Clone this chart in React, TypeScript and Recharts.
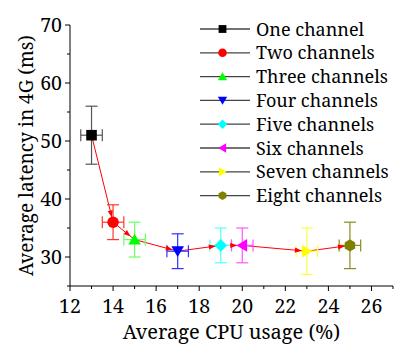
import React from 'react';
import { ComposedChart, XAxis, YAxis, Line, Scatter, ErrorBar } from 'recharts';

const seriesNames = ['One channel', 'Two channels', 'Three channels', 'Four channels', 'Five channels', 'Six channels', 'Seven channels', 'Eight channels'];
const cpuUsage = [13, 14, 15, 17, 19, 20, 23, 25];
const latency = [51, 36, 33, 31, 32, 32, 31, 32];
const cpuErr = [0.5, 0.5, 0.5, 0.5, 0.5, 0.5, 0.5, 0.5];
const latencyErr = [5, 3, 3, 3, 3, 3, 4, 4];
const colors = ['#000000', '#ff0000', '#00ff00', '#0000ff', '#00ffff', '#ff00ff', '#ffff00', '#808000'];
const errColors = ['#555555', '#ff3333', '#66ff66', '#3333ff', '#55ffff', '#ff55ff', '#ffff44', '#8a8a20'];
const shapes = ['square', 'circle', 'triangleUp', 'triangleDown', 'diamond', 'triangleLeft', 'triangleRight', 'hexagon'];
const xTicks = [12, 13, 14, 15, 16, 17, 18, 19, 20, 21, 22, 23, 24, 25, 26, 27];
const xLabelTicks = [12, 14, 16, 18, 20, 22, 24, 26];
const yTicks = [25, 30, 35, 40, 45, 50, 55, 60, 65, 70];
const yLabelTicks = [30, 40, 50, 60, 70];
const xTitle = 'Average CPU usage (%)';
const yTitle = 'Average latency in 4G (ms)';

const txt = { fontFamily: "'Noto Serif', 'DejaVu Serif'" };

const points = cpuUsage.map((c, i) => ({ cpu: c, latency: latency[i], cpuErr: cpuErr[i], latErr: latencyErr[i] }));

function Marker({ type, cx, cy, s, fill }: { type: string; cx: number; cy: number; s: number; fill: string }) {
  const h = s / 2;
  switch (type) {
    case 'square':
      return <rect x={cx - h * 0.92} y={cy - h * 0.92} width={s * 0.92} height={s * 0.92} fill={fill} />;
    case 'circle':
      return <circle cx={cx} cy={cy} r={h} fill={fill} />;
    case 'triangleUp':
      return <polygon points={`${cx},${cy - h} ${cx + h * 1.1},${cy + h * 0.85} ${cx - h * 1.1},${cy + h * 0.85}`} fill={fill} />;
    case 'triangleDown':
      return <polygon points={`${cx},${cy + h} ${cx + h * 1.1},${cy - h * 0.85} ${cx - h * 1.1},${cy - h * 0.85}`} fill={fill} />;
    case 'diamond':
      return <polygon points={`${cx},${cy - h * 1.1} ${cx + h * 1.1},${cy} ${cx},${cy + h * 1.1} ${cx - h * 1.1},${cy}`} fill={fill} />;
    case 'triangleLeft':
      return <polygon points={`${cx - h},${cy} ${cx + h * 0.85},${cy - h * 1.1} ${cx + h * 0.85},${cy + h * 1.1}`} fill={fill} />;
    case 'triangleRight':
      return <polygon points={`${cx + h},${cy} ${cx - h * 0.85},${cy - h * 1.1} ${cx - h * 0.85},${cy + h * 1.1}`} fill={fill} />;
    case 'hexagon': {
      const pts: string[] = [];
      for (let k = 0; k < 6; k++) {
        const a = (Math.PI / 3) * k + Math.PI / 6;
        pts.push(`${cx + Math.cos(a) * h * 1.05},${cy + Math.sin(a) * h * 1.05}`);
      }
      return <polygon points={pts.join(' ')} fill={fill} />;
    }
    default:
      return <circle cx={cx} cy={cy} r={h} fill={fill} />;
  }
}

const arrowCache: { x: number; y: number }[] = [];
const renderArrow = (props: any) => {
  const { cx, cy, index } = props;
  arrowCache[index] = { x: cx, y: cy };
  const pts = props.points;
  const prev = pts && pts[index - 1] ? pts[index - 1] : arrowCache[index - 1];
  if (index === 0 || !prev) return <g key={`arr-${index}`} />;
  const dx = cx - prev.x;
  const dy = cy - prev.y;
  const len = Math.hypot(dx, dy) || 1;
  const ux = dx / len;
  const uy = dy / len;
  const tx = cx - ux * 5;
  const ty = cy - uy * 5;
  const bx = tx - ux * 7;
  const by = ty - uy * 7;
  const px = -uy * 2.6;
  const py = ux * 2.6;
  return (
    <polygon key={`arr-${index}`} points={`${tx},${ty} ${bx + px},${by + py} ${bx - px},${by - py}`} fill="#ff0000" />
  );
};

const YTick = (props: any) => {
  const { x, y, payload } = props;
  const major = yLabelTicks.includes(payload.value);
  return (
    <g>
      <line x1={x - (major ? 5 : 3)} x2={x} y1={y} y2={y} stroke="#000" strokeWidth={1} />
      {major && (
        <text x={x - 8} y={y + 7} textAnchor="end" style={txt} fontSize={19.5} fill="#000">
          {payload.value}
        </text>
      )}
    </g>
  );
};

const XTick = (props: any) => {
  const { x, y, payload } = props;
  const major = xLabelTicks.includes(payload.value);
  return (
    <g>
      <line x1={x} x2={x} y1={y} y2={y + (major ? 5 : 3)} stroke="#000" strokeWidth={1} />
      {major && (
        <text x={x} y={y + 27} textAnchor="middle" style={txt} fontSize={19.5} fill="#000">
          {payload.value}
        </text>
      )}
    </g>
  );
};

export default function App() {
  const W = 395;
  const H = 345;
  return (
    <div style={{ position: 'absolute', left: 0, top: 0, width: W, height: H, background: '#fff' }}>
      <ComposedChart width={W} height={H} margin={{ top: 25, right: 2, left: 0, bottom: 0 }}>
        <XAxis
          type="number"
          dataKey="cpu"
          domain={[12, 27]}
          ticks={xTicks}
          interval={0}
          tickSize={0}
          tickMargin={0}
          tickLine={false}
          tick={<XTick />}
          height={59}
          axisLine={{ stroke: '#000', strokeWidth: 1 }}
          allowDataOverflow
        />
        <YAxis
          type="number"
          dataKey="latency"
          domain={[25, 70]}
          ticks={yTicks}
          interval={0}
          tickSize={0}
          tickMargin={0}
          tickLine={false}
          tick={<YTick />}
          width={70}
          axisLine={{ stroke: '#000', strokeWidth: 1 }}
          allowDataOverflow
        />
        <Line
          data={points}
          dataKey="latency"
          stroke="#ff0000"
          strokeWidth={1}
          dot={renderArrow}
          activeDot={false}
          isAnimationActive={false}
          type="linear"
        />
        {points.map((p, i) => (
          <Scatter
            key={seriesNames[i]}
            name={seriesNames[i]}
            data={[p]}
            dataKey="latency"
            isAnimationActive={false}
            shape={(sp: any) => <Marker type={shapes[i]} cx={sp.cx} cy={sp.cy} s={11.5} fill={colors[i]} />}
          >
            <ErrorBar dataKey="latErr" direction="y" width={6} stroke={errColors[i]} strokeWidth={1.2} />
            <ErrorBar dataKey="cpuErr" direction="x" width={6} stroke={errColors[i]} strokeWidth={1.2} />
          </Scatter>
        ))}
      </ComposedChart>
      <svg width={W} height={H} style={{ position: 'absolute', left: 0, top: 0, pointerEvents: 'none' }}>
        <text x={231.5} y={339} textAnchor="middle" style={txt} fontSize={20} fill="#000">
          {xTitle}
        </text>
        <text
          x={0}
          y={0}
          transform="translate(33,155.5) rotate(-90)"
          textAnchor="middle"
          style={txt}
          fontSize={19}
          fill="#000"
        >
          {yTitle}
        </text>
        {seriesNames.map((name, i) => {
          const ry = 29 + i * 23.8;
          return (
            <g key={name}>
              <line x1={200} x2={250} y1={ry} y2={ry} stroke="#444" strokeWidth={1.3} />
              <Marker type={shapes[i]} cx={222.5} cy={ry} s={8.5} fill={colors[i]} />
              <text x={256} y={ry + 6.5} style={txt} fontSize={18} fill="#000">
                {name}
              </text>
            </g>
          );
        })}
      </svg>
    </div>
  );
}
